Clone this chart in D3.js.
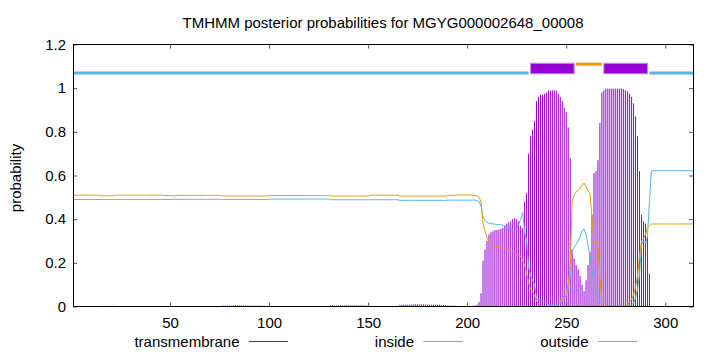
<!DOCTYPE html>
<html>
<head>
<meta charset="utf-8">
<script src="https://cdn.jsdelivr.net/npm/d3@7"></script>
<style>
  body { margin: 0; background: #fff; }
  svg text { font-family: "Liberation Sans", Arial, sans-serif; }
</style>
</head>
<body>
<div id="chart"></div>
<script>
// posterior probability per residue (residue 1 .. 314)
var transmembrane = [
  0, 0, 0, 0, 0, 0, 0, 0, 0, 0,
  0, 0, 0, 0, 0.003, 0.003, 0.003, 0.003, 0.003, 0.003,
  0.003, 0.003, 0, 0, 0, 0, 0, 0, 0, 0,
  0, 0, 0, 0, 0, 0, 0, 0, 0, 0,
  0, 0, 0, 0, 0, 0, 0.002, 0.002, 0.002, 0.002,
  0.002, 0.002, 0.002, 0, 0, 0, 0, 0, 0, 0,
  0, 0, 0, 0, 0, 0, 0, 0, 0, 0,
  0, 0, 0, 0, 0, 0, 0.004, 0.004, 0.004, 0.004,
  0.004, 0.005, 0.005, 0.005, 0.005, 0.005, 0.005, 0.005, 0.004, 0.004,
  0.004, 0.004, 0.004, 0.004, 0.004, 0.004, 0.003, 0.003, 0.003, 0,
  0, 0, 0, 0, 0, 0, 0, 0, 0, 0,
  0, 0, 0, 0, 0, 0, 0, 0, 0, 0,
  0, 0, 0, 0, 0, 0, 0, 0, 0, 0,
  0.005, 0.005, 0.005, 0.005, 0.005, 0.005, 0.005, 0.005, 0.005, 0.005,
  0.005, 0.005, 0.005, 0.005, 0.005, 0.005, 0.005, 0.005, 0.004, 0.004,
  0.001, 0.001, 0.001, 0.001, 0.001, 0.001, 0.001, 0.001, 0.001, 0.001,
  0.001, 0.001, 0.001, 0.001, 0.001, 0.008, 0.008, 0.008, 0.008, 0.008,
  0.009, 0.009, 0.010, 0.010, 0.010, 0.010, 0.010, 0.010, 0.009, 0.009,
  0.009, 0.008, 0.008, 0.008, 0.008, 0.008, 0.007, 0.007, 0.006, 0.004,
  0.004, 0.004, 0.004, 0.004, 0.002, 0.002, 0.002, 0.002, 0.002, 0.002,
  0.002, 0.002, 0.003, 0.005, 0.008, 0.02, 0.06, 0.21, 0.26, 0.30,
  0.33, 0.34, 0.345, 0.35, 0.35, 0.352, 0.355, 0.36, 0.37, 0.38,
  0.385, 0.39, 0.40, 0.405, 0.40, 0.39, 0.37, 0.36, 0.48, 0.52,
  0.70, 0.78, 0.81, 0.85, 0.94, 0.96, 0.97, 0.97, 0.975, 0.98,
  0.99, 0.99, 0.99, 0.99, 0.99, 0.975, 0.96, 0.94, 0.91, 0.89,
  0.82, 0.68, 0.26, 0.22, 0.19, 0.17, 0.14, 0.10, 0.07, 0.12,
  0.19, 0.25, 0.42, 0.61, 0.62, 0.67, 0.84, 0.98, 0.99, 0.998,
  0.998, 0.998, 0.998, 0.998, 0.998, 0.998, 0.998, 0.998, 0.995, 0.99,
  0.985, 0.975, 0.96, 0.93, 0.87, 0.78, 0.62, 0.42, 0.39, 0.38,
  0.32, 0.15, 0, 0, 0, 0, 0, 0, 0, 0,
  0, 0, 0, 0, 0, 0, 0, 0, 0, 0,
  0, 0, 0, 0
];

var inside = [
  0.490, 0.490, 0.490, 0.490, 0.490, 0.490, 0.490, 0.490, 0.490, 0.490,
  0.490, 0.490, 0.490, 0.490, 0.490, 0.490, 0.490, 0.490, 0.490, 0.490,
  0.490, 0.490, 0.490, 0.490, 0.490, 0.490, 0.490, 0.490, 0.490, 0.490,
  0.490, 0.490, 0.490, 0.490, 0.490, 0.490, 0.490, 0.490, 0.490, 0.490,
  0.490, 0.490, 0.490, 0.490, 0.490, 0.490, 0.490, 0.490, 0.490, 0.490,
  0.491, 0.491, 0.491, 0.491, 0.491, 0.491, 0.491, 0.491, 0.491, 0.491,
  0.491, 0.491, 0.491, 0.491, 0.491, 0.491, 0.491, 0.491, 0.491, 0.491,
  0.491, 0.491, 0.491, 0.491, 0.491, 0.491, 0.490, 0.490, 0.490, 0.490,
  0.490, 0.490, 0.490, 0.490, 0.490, 0.490, 0.490, 0.490, 0.490, 0.490,
  0.490, 0.490, 0.490, 0.490, 0.490, 0.490, 0.490, 0.490, 0.490, 0.492,
  0.492, 0.492, 0.492, 0.492, 0.492, 0.492, 0.492, 0.492, 0.492, 0.492,
  0.492, 0.492, 0.492, 0.492, 0.492, 0.492, 0.492, 0.492, 0.492, 0.492,
  0.492, 0.492, 0.492, 0.492, 0.492, 0.492, 0.492, 0.492, 0.492, 0.492,
  0.489, 0.489, 0.489, 0.489, 0.489, 0.489, 0.489, 0.489, 0.489, 0.489,
  0.489, 0.489, 0.489, 0.489, 0.489, 0.489, 0.489, 0.489, 0.489, 0.489,
  0.489, 0.489, 0.489, 0.489, 0.489, 0.489, 0.489, 0.489, 0.489, 0.489,
  0.489, 0.489, 0.489, 0.489, 0.489, 0.486, 0.486, 0.486, 0.486, 0.486,
  0.486, 0.486, 0.486, 0.486, 0.486, 0.486, 0.486, 0.486, 0.486, 0.486,
  0.486, 0.486, 0.486, 0.486, 0.486, 0.486, 0.486, 0.486, 0.486, 0.487,
  0.487, 0.487, 0.487, 0.487, 0.487, 0.487, 0.487, 0.487, 0.487, 0.487,
  0.487, 0.487, 0.488, 0.487, 0.485, 0.480, 0.460, 0.410, 0.395, 0.385,
  0.382, 0.380, 0.378, 0.377, 0.376, 0.375, 0.374, 0.372, 0.368, 0.360,
  0.356, 0.352, 0.350, 0.352, 0.360, 0.375, 0.400, 0.430, 0.340, 0.300,
  0.180, 0.140, 0.120, 0.100, 0.035, 0.030, 0.025, 0.028, 0.023, 0.018,
  0.008, 0.008, 0.007, 0.006, 0.005, 0.010, 0.015, 0.025, 0.040, 0.050,
  0.080, 0.140, 0.260, 0.270, 0.285, 0.300, 0.320, 0.345, 0.355, 0.330,
  0.280, 0.230, 0.170, 0.100, 0.080, 0.050, 0.030, 0.010, 0.005, 0.001,
  0.001, 0.001, 0.001, 0.001, 0.001, 0.001, 0.001, 0.001, 0.002, 0.004,
  0.005, 0.005, 0.008, 0.015, 0.040, 0.080, 0.150, 0.280, 0.300, 0.290,
  0.320, 0.480, 0.622, 0.622, 0.622, 0.622, 0.622, 0.622, 0.622, 0.622,
  0.622, 0.622, 0.622, 0.622, 0.622, 0.622, 0.622, 0.622, 0.622, 0.622,
  0.622, 0.622, 0.622, 0.622
];

var outside = [
  0.510, 0.510, 0.510, 0.510, 0.510, 0.510, 0.510, 0.510, 0.510, 0.510,
  0.510, 0.510, 0.510, 0.510, 0.507, 0.507, 0.507, 0.507, 0.507, 0.507,
  0.507, 0.507, 0.510, 0.510, 0.510, 0.510, 0.510, 0.510, 0.510, 0.510,
  0.510, 0.510, 0.510, 0.510, 0.510, 0.510, 0.510, 0.510, 0.510, 0.510,
  0.510, 0.510, 0.510, 0.510, 0.510, 0.510, 0.508, 0.508, 0.508, 0.508,
  0.507, 0.507, 0.507, 0.509, 0.509, 0.509, 0.509, 0.509, 0.509, 0.509,
  0.509, 0.509, 0.509, 0.509, 0.509, 0.509, 0.509, 0.509, 0.509, 0.509,
  0.509, 0.509, 0.509, 0.509, 0.509, 0.509, 0.506, 0.506, 0.506, 0.506,
  0.506, 0.506, 0.506, 0.506, 0.506, 0.506, 0.506, 0.506, 0.506, 0.506,
  0.506, 0.506, 0.506, 0.506, 0.506, 0.506, 0.506, 0.506, 0.506, 0.508,
  0.508, 0.508, 0.508, 0.508, 0.508, 0.508, 0.508, 0.508, 0.508, 0.508,
  0.508, 0.508, 0.508, 0.508, 0.508, 0.508, 0.508, 0.508, 0.508, 0.508,
  0.508, 0.508, 0.508, 0.508, 0.508, 0.508, 0.508, 0.508, 0.508, 0.508,
  0.506, 0.506, 0.506, 0.506, 0.506, 0.506, 0.506, 0.506, 0.506, 0.506,
  0.506, 0.506, 0.506, 0.506, 0.506, 0.506, 0.506, 0.506, 0.506, 0.506,
  0.510, 0.510, 0.510, 0.510, 0.510, 0.510, 0.510, 0.510, 0.510, 0.510,
  0.510, 0.510, 0.510, 0.510, 0.510, 0.506, 0.506, 0.506, 0.506, 0.506,
  0.506, 0.506, 0.506, 0.506, 0.506, 0.506, 0.506, 0.506, 0.506, 0.506,
  0.506, 0.506, 0.506, 0.506, 0.506, 0.506, 0.506, 0.506, 0.506, 0.509,
  0.509, 0.509, 0.509, 0.509, 0.511, 0.511, 0.511, 0.511, 0.511, 0.511,
  0.511, 0.511, 0.509, 0.508, 0.507, 0.500, 0.480, 0.380, 0.345, 0.315,
  0.295, 0.285, 0.280, 0.275, 0.274, 0.273, 0.271, 0.268, 0.265, 0.262,
  0.260, 0.258, 0.250, 0.243, 0.240, 0.235, 0.230, 0.210, 0.190, 0.150,
  0.110, 0.080, 0.070, 0.050, 0.025, 0.010, 0.005, 0.002, 0.002, 0.002,
  0.002, 0.002, 0.003, 0.004, 0.005, 0.015, 0.025, 0.035, 0.050, 0.060,
  0.100, 0.180, 0.480, 0.510, 0.525, 0.530, 0.540, 0.555, 0.565, 0.550,
  0.530, 0.520, 0.410, 0.290, 0.300, 0.280, 0.130, 0.010, 0.005, 0.001,
  0.001, 0.001, 0.001, 0.001, 0.001, 0.001, 0.001, 0.001, 0.003, 0.006,
  0.010, 0.020, 0.032, 0.055, 0.090, 0.140, 0.230, 0.300, 0.310, 0.330,
  0.360, 0.370, 0.378, 0.378, 0.378, 0.378, 0.378, 0.378, 0.378, 0.378,
  0.378, 0.378, 0.378, 0.378, 0.378, 0.378, 0.378, 0.378, 0.378, 0.378,
  0.378, 0.378, 0.378, 0.378
];

// predicted topology segments (first residue, last residue, kind)
var topoStart = [1, 232, 255, 269, 292];
var topoEnd = [231, 254, 268, 291, 314];
var topoType = ["inside", "TM", "outside", "TM", "inside"];
var topoLevel = {inside: 1.07, TM: 1.09, outside: 1.11};

var xTicks = [50, 100, 150, 200, 250, 300];
var yTicks = [0, 0.2, 0.4, 0.6, 0.8, 1, 1.2];
var seriesNames = ["transmembrane", "inside", "outside"];

var colors = {transmembrane: "#9400D3", TM: "#9400D3", inside: "#56B4E9", outside: "#E69F00"};

//set margins and size of graph
var margin = {top: 44.5, right: 27, bottom: 45.5, left: 73},
  width = 720,
  height = 352;

var svg = d3.select("#chart").append("svg")
  .attr("width", width)
  .attr("height", height);

var residues = d3.range(1, transmembrane.length + 1);

var x = d3.scaleLinear().domain([1, residues.length]).range([margin.left, width - margin.right]);
var y = d3.scaleLinear().domain([0, 1.2]).range([height - margin.bottom, margin.top]);

// transmembrane as impulses
svg.append("g")
  .selectAll("line")
  .data(residues.filter(function(r) { return transmembrane[r - 1] > 0; }))
  .enter().append("line")
  .attr("x1", function(r) { return x(r); })
  .attr("x2", function(r) { return x(r); })
  .attr("y1", y(0))
  .attr("y2", function(r) { return y(transmembrane[r - 1]); })
  .attr("stroke", colors.transmembrane)
  .attr("stroke-width", 1);

//inside and outside lines
var line = d3.line()
  .x(function(d, i) { return x(i + 1); })
  .y(function(d) { return y(d); });

svg.append("path")
  .attr("d", line(inside))
  .attr("fill", "none")
  .attr("stroke", colors.inside)
  .attr("stroke-width", 1);

svg.append("path")
  .attr("d", line(outside))
  .attr("fill", "none")
  .attr("stroke", colors.outside)
  .attr("stroke-width", 1);

// topology bar on top
topoType.forEach(function(t, i) {
  var lv = y(topoLevel[t]);
  if (t == "TM") {
    var h = y(1.066) - y(1.114);
    svg.append("rect")
      .attr("x", x(topoStart[i]))
      .attr("y", lv - h / 2)
      .attr("width", x(topoEnd[i]) - x(topoStart[i]))
      .attr("height", h)
      .attr("fill", colors.TM)
      .attr("stroke", "#c48ae8")
      .attr("stroke-width", 1);
  } else {
    svg.append("line")
      .attr("x1", x(topoStart[i]))
      .attr("x2", x(topoEnd[i]))
      .attr("y1", lv)
      .attr("y2", lv)
      .attr("stroke", colors[t])
      .attr("stroke-width", 3);
  }
});

// axes with inward ticks
function styleAxis(g) {
  g.select(".domain").remove();
  g.attr("font-size", 15).attr("font-family", "Liberation Sans, Arial, sans-serif");
  g.selectAll(".tick line").attr("stroke", "#555");
  g.selectAll(".tick text").attr("fill", "#000");
}

svg.append("g")
  .attr("transform", "translate(0," + y(0) + ")")
  .call(d3.axisBottom(x).tickValues(xTicks).tickSize(-4).tickPadding(11))
  .call(styleAxis);

svg.append("g")
  .attr("transform", "translate(0," + y(1.2) + ")")
  .call(d3.axisTop(x).tickValues(xTicks).tickSize(-4).tickFormat(""))
  .call(styleAxis);

svg.append("g")
  .attr("transform", "translate(" + x(1) + ",0)")
  .call(d3.axisLeft(y).tickValues(yTicks).tickSize(-4).tickPadding(7).tickFormat(function(d) { return String(d); }))
  .call(styleAxis);

svg.append("g")
  .attr("transform", "translate(" + x(residues.length) + ",0)")
  .call(d3.axisRight(y).tickValues(yTicks).tickSize(-4).tickFormat(""))
  .call(styleAxis);

//border, snapped to the pixel grid
svg.append("rect")
  .attr("x", Math.round(x(1)) + 0.5)
  .attr("y", y(1.2))
  .attr("width", Math.round(x(residues.length)) - Math.round(x(1)))
  .attr("height", y(0) - y(1.2))
  .attr("fill", "none")
  .attr("stroke", "#000")
  .attr("stroke-width", 1);

// title and axis label
svg.append("text")
  .attr("x", (x(1) + x(residues.length)) / 2)
  .attr("y", 28)
  .attr("text-anchor", "middle")
  .attr("font-size", 15)
  .text("TMHMM posterior probabilities for MGYG000002648_00008");

svg.append("text")
  .attr("transform", "translate(21,178) rotate(-90)")
  .attr("text-anchor", "middle")
  .attr("font-size", 15)
  .text("probability");

// legend
var legend = svg.append("g")
  .selectAll("g")
  .data(seriesNames)
  .enter().append("g")
  .attr("transform", function(d, i) { return "translate(" + (249 + i * 174.5) + ",341.5)"; });

legend.append("text")
  .attr("x", -9.5)
  .attr("y", 5.5)
  .attr("text-anchor", "end")
  .attr("font-size", 15)
  .text(function(d) { return d; });

legend.append("line")
  .attr("x1", 0)
  .attr("x2", 39)
  .attr("stroke", function(d) { return colors[d]; })
  .attr("stroke-width", 1);
</script>
</body>
</html>
